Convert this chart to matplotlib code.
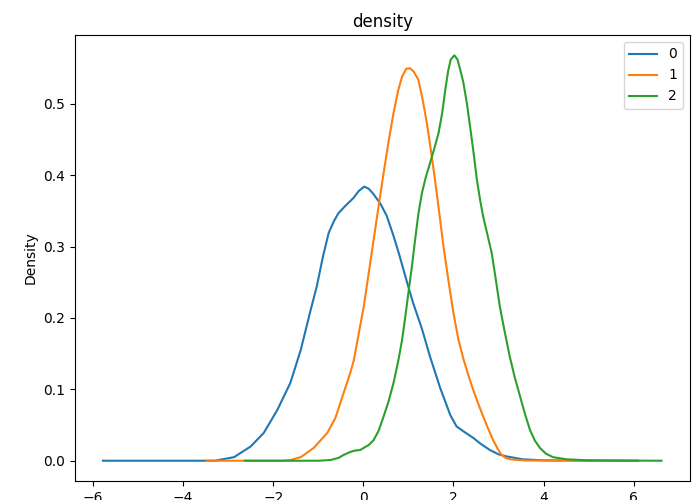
import matplotlib
matplotlib.use("Agg")
from matplotlib import pyplot as plt

# values
x0 = [-5.78, -3.3, -2.87, -2.50, -2.21, -1.91, -1.62, -1.39, -1.17, -1.03, -0.90,
      -0.77, -0.65, -0.55, -0.40, -0.22, -0.10, 0.02, 0.12, 0.22, 0.38, 0.52, 0.67,
      0.80, 0.97, 1.10, 1.30, 1.48, 1.70, 1.93, 2.07, 2.25, 2.44, 2.62, 2.81, 3.00,
      3.18, 3.54, 4.0, 6.1]
y0 = [0, 0, 0.005, 0.020, 0.039, 0.071, 0.109, 0.155, 0.211, 0.245, 0.285,
      0.319, 0.336, 0.347, 0.357, 0.368, 0.378, 0.384, 0.381, 0.374, 0.360, 0.343, 0.315,
      0.288, 0.250, 0.222, 0.185, 0.146, 0.103, 0.064, 0.048, 0.040, 0.032, 0.023, 0.015, 0.009,
      0.006, 0.002, 0.0005, 0]

x1 = [-3.48, -1.8, -1.62, -1.39, -1.10, -0.80, -0.62, -0.51, -0.40, -0.29, -0.21,
      -0.14, 0.01, 0.12, 0.23, 0.34, 0.45, 0.56, 0.67, 0.77, 0.86, 0.95, 1.03, 1.12,
      1.22, 1.31, 1.41, 1.50, 1.59, 1.70, 1.78, 1.89, 2.0, 2.11, 2.22, 2.33, 2.44,
      2.55, 2.66, 2.77, 2.88, 2.98, 3.07, 3.16, 3.25, 3.6, 5.2]
y1 = [0, 0, 0.001, 0.005, 0.018, 0.039, 0.060, 0.081, 0.102, 0.123, 0.141,
      0.165, 0.216, 0.263, 0.310, 0.357, 0.403, 0.447, 0.487, 0.518, 0.538, 0.549, 0.550, 0.545,
      0.534, 0.508, 0.473, 0.435, 0.394, 0.340, 0.300, 0.252, 0.207, 0.170, 0.143, 0.120, 0.099,
      0.080, 0.062, 0.045, 0.029, 0.017, 0.008, 0.004, 0.002, 0.0003, 0]

x2 = [-2.63, -1.0, -0.73, -0.55, -0.44, -0.30, -0.21, -0.07, 0.01, 0.12, 0.23, 0.34,
      0.45, 0.56, 0.67, 0.77, 0.86, 0.93, 1.0, 1.08, 1.15, 1.22, 1.30, 1.39, 1.48,
      1.57, 1.67, 1.75, 1.82, 1.88, 1.94, 2.02, 2.09, 2.15, 2.22, 2.30, 2.37, 2.45,
      2.52, 2.59, 2.66, 2.75, 2.85, 2.94, 3.03, 3.14, 3.25, 3.36, 3.48, 3.59, 3.70,
      3.81, 3.92, 4.05, 4.21, 4.51, 5.0, 6.62]
y2 = [0, 0, 0.001, 0.004, 0.008, 0.012, 0.014, 0.015, 0.018, 0.022, 0.029, 0.042,
      0.062, 0.083, 0.109, 0.138, 0.169, 0.201, 0.235, 0.273, 0.310, 0.345, 0.375, 0.398, 0.417,
      0.436, 0.459, 0.487, 0.520, 0.545, 0.562, 0.568, 0.562, 0.548, 0.530, 0.500, 0.468, 0.430,
      0.394, 0.366, 0.342, 0.318, 0.291, 0.254, 0.216, 0.180, 0.146, 0.117, 0.090, 0.065, 0.043,
      0.028, 0.018, 0.010, 0.005, 0.002, 0.0005, 0]

series = [("0", x0, y0), ("1", x1, y1), ("2", x2, y2)]

fig = plt.figure(figsize=(6.97, 5.0), dpi=100)
ax = fig.add_axes([75 / 697, 19 / 500, 614.5 / 697, 446 / 500])

for name, xs, ys in series:
    ax.plot(xs, ys, label=name)

ax.set_title("density")
ax.set_ylabel("Density")
ax.legend(loc="upper right")

fig.savefig("out.png", dpi=100)
